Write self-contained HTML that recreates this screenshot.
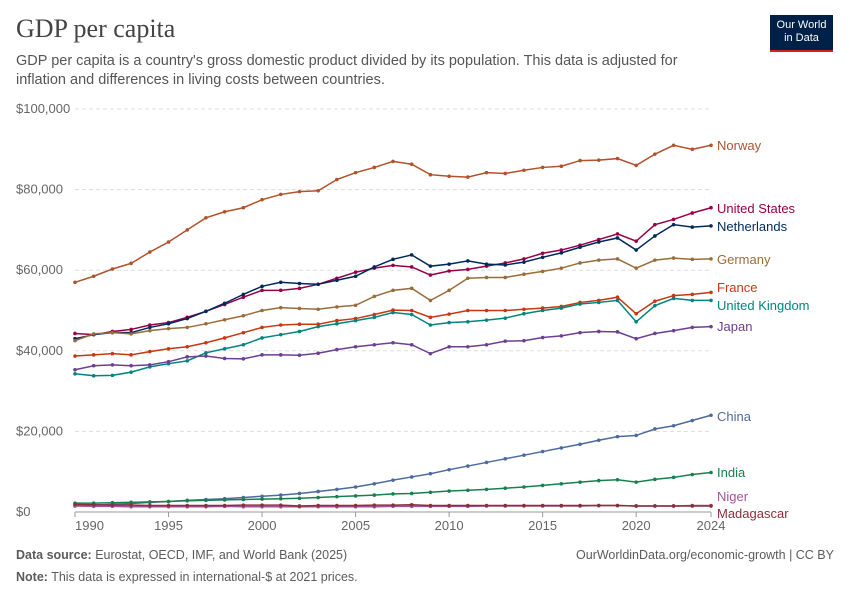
<!DOCTYPE html>
<html><head><meta charset="utf-8"><style>
body{margin:0;background:#fff;font-family:"Liberation Sans",sans-serif;}
#wrap{position:relative;width:850px;height:600px;overflow:hidden;}
h1{position:absolute;left:16px;top:14px;margin:0;font-family:"Liberation Serif",serif;font-size:26px;font-weight:normal;color:#444;}
.sub{position:absolute;left:16px;top:52px;width:690px;font-size:14.5px;line-height:19px;color:#555;}
.logo{position:absolute;left:770px;top:15px;width:63px;height:37px;background:#002147;border-bottom:2px solid #ce261e;color:#fff;font-size:11px;line-height:13px;text-align:center;padding-top:4px;box-sizing:border-box;}
.foot{position:absolute;font-size:12.5px;color:#5b5b5b;}
</style></head><body><div id="wrap">
<h1>GDP per capita</h1>
<div class="sub">GDP per capita is a country's gross domestic product divided by its population. This data is adjusted for inflation and differences in living costs between countries.</div>
<div class="logo">Our World<br>in Data</div>
<svg id="svg" width="850" height="600" style="position:absolute;left:0;top:0"></svg>
<div class="foot" style="left:16px;top:548px"><b>Data source:</b> Eurostat, OECD, IMF, and World Bank (2025)</div>
<div class="foot" style="right:16px;top:548px">OurWorldinData.org/economic-growth | CC BY</div>
<div class="foot" style="left:16px;top:570px"><b>Note:</b> This data is expressed in international-$ at 2021 prices.</div>
</div>
<script>
const years=[];for(let y=1990;y<=2024;y++)years.push(y);
const yTicks=[0,20000,40000,60000,80000,100000];
const yTickLabels=["$0","$20,000","$40,000","$60,000","$80,000","$100,000"];
const xTicks=[1990,1995,2000,2005,2010,2015,2020,2024];
const norway=[57,58.5,60.3,61.7,64.5,67,70,73,74.5,75.5,77.5,78.8,79.5,79.7,82.5,84.2,85.5,87,86.3,83.7,83.3,83.1,84.2,84,84.8,85.5,85.8,87.2,87.3,87.7,86,88.8,91,90,91];
const us=[44.3,44,44.8,45.3,46.4,47,48.3,49.8,51.5,53.3,55,55,55.5,56.5,58,59.5,60.5,61.2,60.8,58.8,59.8,60.2,61,61.8,62.8,64.2,65,66.2,67.6,69,67.2,71.3,72.6,74.2,75.5];
const netherlands=[43,44,44.5,44.5,45.8,46.7,48,49.8,51.8,54,56,57,56.7,56.5,57.5,58.5,60.8,62.7,63.8,61,61.5,62.3,61.5,61.3,62,63.2,64.3,65.7,67,68,65,68.5,71.3,70.7,71];
const germany=[42.5,44.2,44.5,44.2,45,45.5,45.8,46.7,47.7,48.7,50,50.7,50.5,50.3,50.9,51.3,53.5,55,55.5,52.5,55,58,58.2,58.2,59,59.7,60.5,61.8,62.5,62.8,60.5,62.5,63,62.7,62.8];
const france=[38.7,39,39.3,39,39.8,40.5,41,42,43.2,44.5,45.8,46.4,46.6,46.6,47.5,48,49,50.1,50,48.3,49.1,50,50,50,50.3,50.6,51,52,52.5,53.3,49.2,52.3,53.7,54,54.5];
const uk=[34.3,33.8,33.9,34.7,36,36.8,37.5,39.5,40.5,41.5,43.2,44,44.8,46,46.7,47.5,48.3,49.5,49,46.4,47,47.2,47.6,48.1,49.2,50,50.6,51.6,52,52.5,47.2,51.2,53,52.5,52.5];
const japan=[35.3,36.3,36.5,36.3,36.5,37.3,38.5,38.7,38.1,38,39,39,38.9,39.4,40.3,41,41.5,42,41.5,39.3,41,41,41.5,42.4,42.5,43.3,43.7,44.5,44.8,44.7,43,44.3,45,45.8,46];
const china=[1.6,1.7,1.9,2.1,2.4,2.6,2.9,3.1,3.3,3.6,3.9,4.2,4.6,5.1,5.6,6.2,7.0,7.9,8.7,9.5,10.5,11.4,12.3,13.2,14.1,15.0,15.9,16.8,17.8,18.7,19.0,20.6,21.4,22.7,24];
const india=[2.2,2.2,2.3,2.4,2.5,2.6,2.8,2.9,3.0,3.1,3.2,3.3,3.4,3.6,3.8,4.0,4.2,4.5,4.6,4.9,5.2,5.4,5.6,5.9,6.2,6.6,7.0,7.4,7.8,8.0,7.4,8.1,8.6,9.3,9.8];
const niger=[1.5,1.4,1.4,1.3,1.3,1.3,1.3,1.3,1.4,1.3,1.3,1.3,1.3,1.3,1.3,1.3,1.3,1.4,1.4,1.4,1.4,1.4,1.5,1.5,1.5,1.5,1.5,1.5,1.6,1.6,1.5,1.5,1.5,1.6,1.6];
const madagascar=[1.9,1.8,1.7,1.7,1.6,1.6,1.6,1.6,1.6,1.7,1.7,1.7,1.5,1.6,1.6,1.6,1.7,1.7,1.8,1.6,1.6,1.6,1.6,1.6,1.6,1.6,1.6,1.6,1.6,1.6,1.5,1.5,1.5,1.5,1.5];
const series=[
 ["Norway",norway,"#b0522b",146],["United States",us,"#970046",209],["Netherlands",netherlands,"#00295b",227],
 ["Germany",germany,"#996d39",260],["France",france,"#c8370f",288],["United Kingdom",uk,"#00847e",306],
 ["Japan",japan,"#6d3e91",327],["China",china,"#4c6a9c",417],["India",india,"#18804f",473],
 ["Niger",niger,"#a2559c",497],["Madagascar",madagascar,"#883039",514]];
const X=y=>75+(y-1990)*(636/34);
const Y=v=>512-v*(403/100000);
const svg=document.getElementById('svg');const NS="http://www.w3.org/2000/svg";
function mk(t,a){const e=document.createElementNS(NS,t);for(const k in a)e.setAttribute(k,a[k]);svg.appendChild(e);return e;}
yTicks.forEach((v,i)=>{
 const l=mk('line',{x1:75,x2:711,y1:Y(v),y2:Y(v),stroke:v===0?'#999':'#ddd','stroke-dasharray':v===0?'':'4,3'});
 
 
 const t=mk('text',{x:16,y:Y(v)+4,'font-size':13,fill:'#666'});t.textContent=yTickLabels[i];
 
 
});
xTicks.forEach(y=>{
 const l=mk('line',{x1:X(y),x2:X(y),y1:512,y2:517,stroke:'#999'});
 
 
 const t=mk('text',{x:X(y),y:530,'font-size':13,fill:'#666','text-anchor':y===1990?'start':'middle'});t.textContent=y;
 
 
});
series.forEach(([name,vals,col,ly])=>{
 const pts=vals.map((v,i)=>X(years[i])+','+Y(v*1000)).join(' ');
 const p=mk('polyline',{points:pts,fill:'none',stroke:col,'stroke-width':1.5});
 
 
 vals.forEach((v,i)=>{const c=mk('circle',{cx:X(years[i]),cy:Y(v*1000),r:1.8,fill:col});
  
  });
 const t=mk('text',{x:717,y:ly+4,'font-size':13,fill:col});t.textContent=name;
 
 
});
</script></body></html>
